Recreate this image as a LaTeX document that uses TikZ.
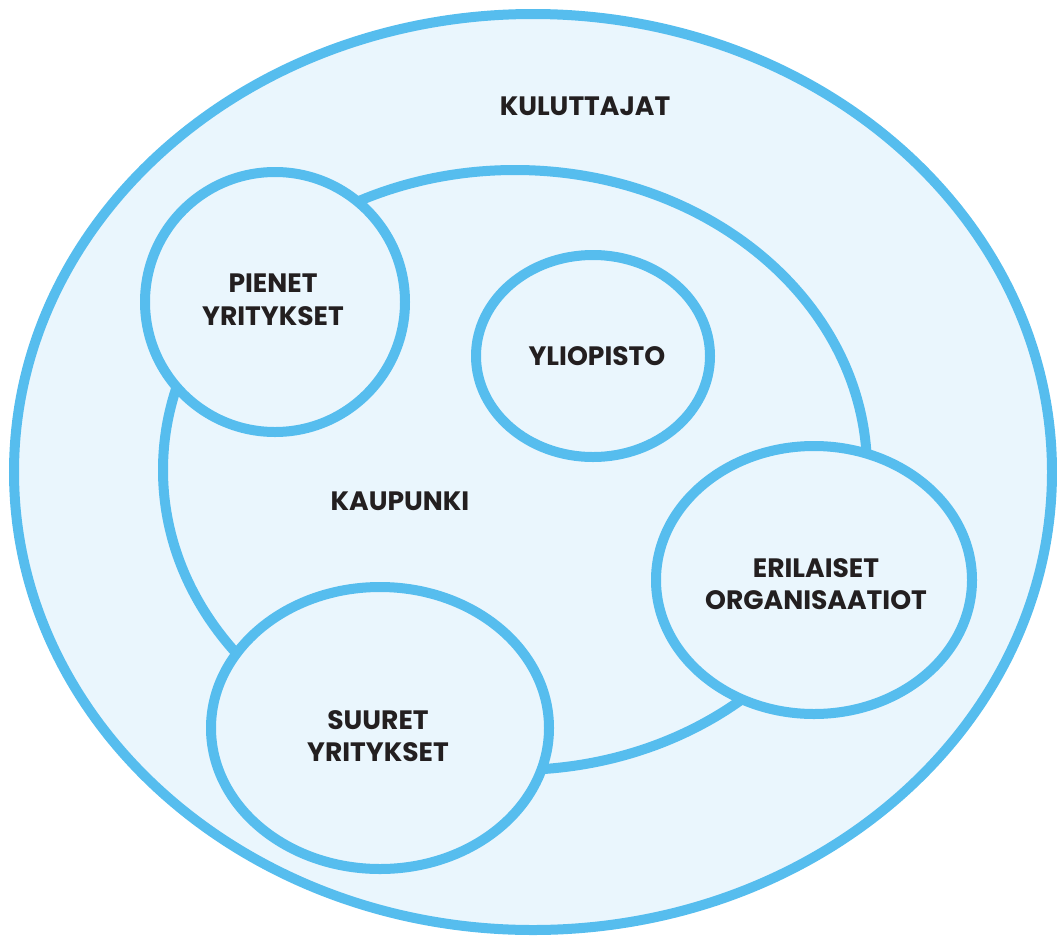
\documentclass[tikz,border=0pt]{standalone}
\usepackage{fontspec}
\setmainfont{Poppins}
\definecolor{ringblue}{HTML}{56BDEE}
\definecolor{paleblue}{HTML}{EAF6FD}
\definecolor{labelink}{HTML}{231F20}
\tikzset{
  ring/.style={draw=ringblue, line width=10pt, fill=paleblue},
  lbl/.style={font=\bfseries\fontsize{26.6}{32.5}\selectfont, text=labelink, align=center, inner sep=0pt},
}
\begin{document}
\begin{tikzpicture}[x=1pt,y=-1pt]
\useasboundingbox (0,0) rectangle (1057,937);
% consumers: the outermost region
\draw[ring] (533,472) ellipse [x radius=519, y radius=458];
% the city
\draw[ring] (515,470) ellipse [x radius=352, y radius=300];
% actors inside and across the city boundary
\draw[ring] (275,302) ellipse [x radius=130, y radius=130];
\draw[ring] (593,356) ellipse [x radius=117, y radius=101];
\draw[ring] (814,580) ellipse [x radius=158, y radius=134];
\draw[ring] (380,728) ellipse [x radius=169, y radius=141];
% labels
\node[lbl] (kuluttajat) at (585,106) {KULUTTAJAT};
\node[lbl] (pienet) at (273,300) {PIENET\\YRITYKSET};
\node[lbl] (yliopisto) at (597,356) {YLIOPISTO};
\node[lbl] (kaupunki) at (400,501) {KAUPUNKI};
\node[lbl] (erilaiset) at (816,584) {ERILAISET\\ORGANISAATIOT};
\node[lbl] (suuret) at (378,736) {SUURET\\YRITYKSET};
\end{tikzpicture}
\end{document}
